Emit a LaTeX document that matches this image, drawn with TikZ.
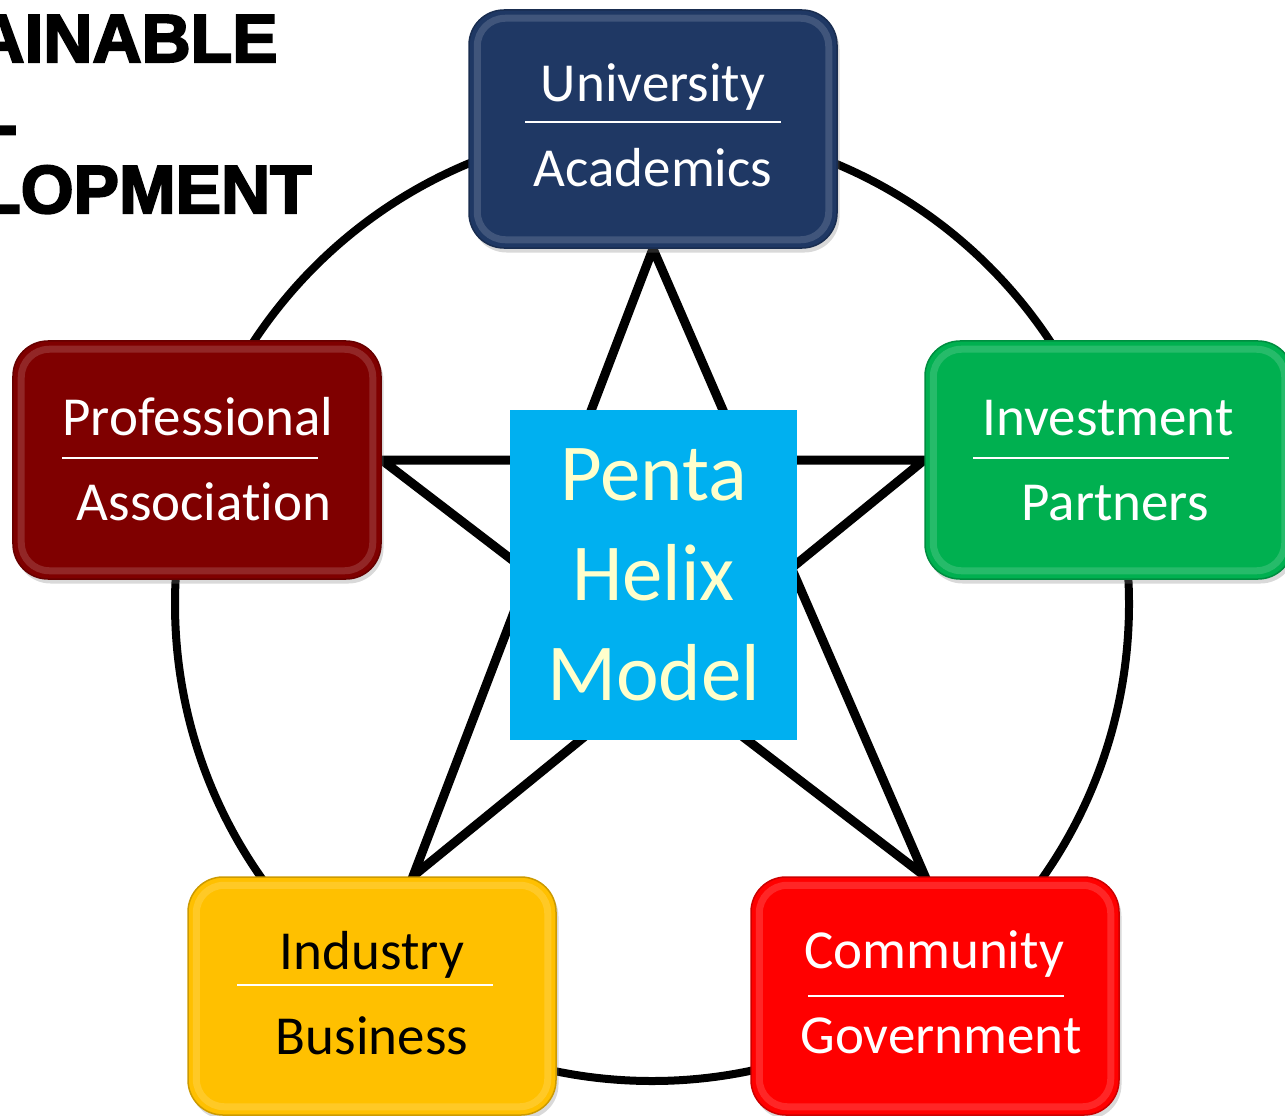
\documentclass[tikz,border=0pt]{standalone}
\usepackage{fontspec}
\setmainfont{Carlito}[Ligatures=NoCommon]
\newfontfamily\titlefont[BoldFeatures={FakeBold=3}]{Liberation Sans}
\usetikzlibrary{calc,backgrounds,shadows}
\definecolor{uniC}{HTML}{1F3864}
\definecolor{profC}{HTML}{7F0000}
\definecolor{invC}{HTML}{00B050}
\definecolor{indC}{HTML}{FFC000}
\definecolor{comC}{HTML}{FF0000}
\definecolor{pentaC}{HTML}{00B0F0}
\definecolor{pentaT}{HTML}{FFFFCC}
\begin{document}
\begin{tikzpicture}[x=0.2mm,y=-0.2mm,
  hbox/.style={rounded corners=7mm, minimum width=73.6mm, minimum height=47.6mm,
    inner sep=0pt, fill=#1, draw=#1!80!black, line width=0.3mm,
    drop shadow={opacity=0.3, shadow xshift=0.5mm, shadow yshift=-0.9mm}},
  rim/.style={rounded corners=5.6mm, draw=white, draw opacity=0.15, line width=1.4mm},
  lbl/.style={font=\fontsize{31.3}{36}\selectfont, text=#1, anchor=base, inner sep=0pt},
  lbl/.default=white,
  sepline/.style={draw=white, line width=0.4mm},
  ring/.style={draw=black, line width=1.6mm},
  starline/.style={draw=black, line width=1.8mm, line join=miter, miter limit=12},
  ttl/.style={font=\titlefont\bfseries\fontsize{38.7}{44}\selectfont, anchor=base east, inner sep=0pt}
]
\useasboundingbox (0,0) rectangle (1285,1116);

% title fragments
\node[ttl] (ttlA) at (278,62) {AINABLE};
\node[ttl] (ttlB) at (18,148) {-};
\node[ttl] (ttlC) at (312,213) {LOPMENT};

% boxes
\node[hbox=uniC] (uni) at (653,129) {};
\node[hbox=profC] (prof) at (197,460) {};
\node[hbox=invC] (inv) at (1109,460) {};
\node[hbox=indC] (ind) at (372,996) {};
\node[hbox=comC] (com) at (935,996) {};
\foreach \n in {uni,prof,inv,ind,com}
  \draw[rim] ([shift={(9,9)}]\n.north west) rectangle ([shift={(-9,-9)}]\n.south east);

% box texts
\node[lbl] (uniA) at ($(uni.center)+(0,-27)$) {University};
\node[lbl] (uniB) at ($(uni.center)+(0,58)$) {Academics};
\draw[sepline] ($(uni.center)+(-128,-7)$) -- ($(uni.center)+(128,-7)$);

\node[lbl] (profA) at ($(prof.center)+(1,-25)$) {Professional};
\node[lbl] (profB) at ($(prof.center)+(7,60)$) {Association};
\draw[sepline] ($(prof.center)+(-135,-2)$) -- ($(prof.center)+(121,-2)$);

\node[lbl] (invA) at ($(inv.center)+(-1,-25)$) {Investment};
\node[lbl] (invB) at ($(inv.center)+(6,60)$) {Partners};
\draw[sepline] ($(inv.center)+(-136,-2)$) -- ($(inv.center)+(120,-2)$);

\node[lbl=black] (indA) at ($(ind.center)+(0,-27)$) {Industry};
\node[lbl=black] (indB) at ($(ind.center)+(0,58)$) {Business};
\draw[sepline] ($(ind.center)+(-135,-11)$) -- ($(ind.center)+(121,-11)$);

\node[lbl] (comA) at ($(com.center)+(-1,-28)$) {Community};
\node[lbl] (comB) at ($(com.center)+(6,57)$) {Government};
\draw[sepline] ($(com.center)+(-127,0)$) -- ($(com.center)+(129,0)$);

% centre
\node[fill=pentaC, minimum width=57.4mm, minimum height=66mm, inner sep=0pt,
  align=center, text=pentaT, font=\fontsize{46}{56.9}\selectfont] (ph) at (653.5,575)
  {Penta\\Helix\\Model};

\coordinate (bl) at ($(ind.north)+(41,0)$);
\coordinate (br) at ($(com.north)+(-10,0)$);
\coordinate (mid) at (652,604);

\begin{scope}[on background layer]
  \draw[ring] (mid) circle[radius=477];
  \draw[starline] (uni.south) -- (br) -- (prof.east) -- (inv.west) -- (bl) -- cycle;
\end{scope}
\end{tikzpicture}
\end{document}
